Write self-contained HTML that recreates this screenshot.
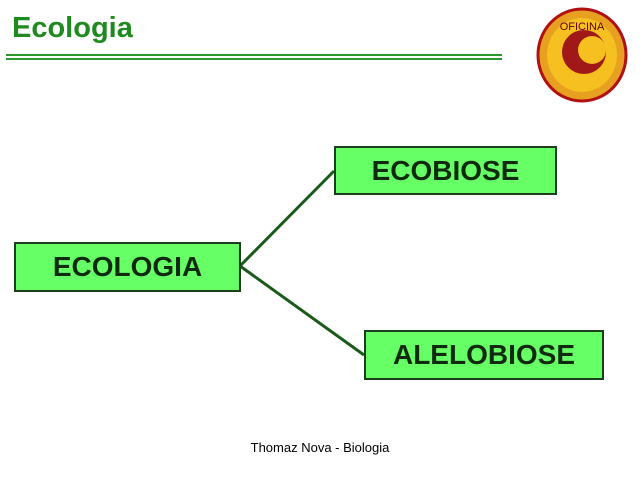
<!DOCTYPE html>
<html><head><meta charset="utf-8"><style>
body{margin:0;width:640px;height:480px;background:#fff;position:relative;overflow:hidden;font-family:"Liberation Sans",sans-serif}
.t{position:absolute;left:12px;top:12px;font-size:29px;font-weight:bold;color:#1f8a1f}
.box{position:absolute;background:#66ff66;border:2px solid #1d3d1d;box-sizing:border-box;font-weight:bold;color:#0f2a0f;font-size:28px;text-align:center;font-family:"Liberation Sans",sans-serif}
.f{position:absolute;left:0;width:640px;text-align:center;top:440px;font-size:13px;color:#000}
</style></head><body>
<div class="t">Ecologia</div>
<div style="position:absolute;left:6px;top:54px;width:496px;height:2px;background:#2a9a2a"></div>
<div style="position:absolute;left:6px;top:58px;width:496px;height:2px;background:#2a9a2a"></div>
<svg style="position:absolute;left:0;top:0" width="640" height="480">
<ellipse cx="582" cy="55" rx="44" ry="46" fill="#e8a020" stroke="#b01010" stroke-width="3"/>
<ellipse cx="582" cy="55" rx="35" ry="37" fill="#f5c020"/>
<circle cx="584" cy="52" r="22" fill="#a01818"/>
<circle cx="592" cy="50" r="14" fill="#f5c020"/>
<text x="582" y="30" font-size="11" text-anchor="middle" fill="#600" font-family="Liberation Sans">OFICINA</text>
<line x1="240" y1="266" x2="334" y2="171" stroke="#1a5a1a" stroke-width="3"/>
<line x1="240" y1="266" x2="364" y2="355" stroke="#1a5a1a" stroke-width="3"/>
</svg>
<div class="box" style="left:334px;top:146px;width:223px;height:49px;line-height:45px">ECOBIOSE</div>
<div class="box" style="left:14px;top:242px;width:227px;height:50px;line-height:46px">ECOLOGIA</div>
<div class="box" style="left:364px;top:330px;width:240px;height:50px;line-height:46px">ALELOBIOSE</div>
<div class="f">Thomaz Nova - Biologia</div>
</body></html>
